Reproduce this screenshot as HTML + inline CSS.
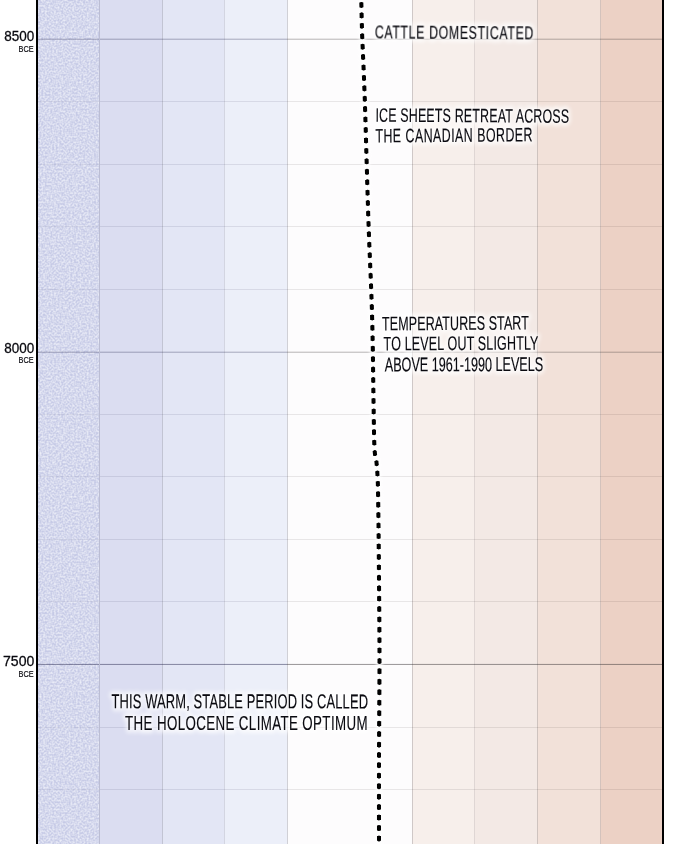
<!DOCTYPE html>
<html><head><meta charset="utf-8"><style>
html,body{margin:0;padding:0;background:#fff;width:700px;height:844px;overflow:hidden}
svg{display:block}
text{font-family:"Liberation Sans",sans-serif;fill:#0a0a10}
.lbl{font-size:15.5px;stroke:#0a0a10;stroke-width:.3px}
.bce{font-size:9.9px;stroke:#0a0a10;stroke-width:.2px}
.ann{font-size:18.6px;stroke:#0a0a10;stroke-width:.15px;vector-effect:non-scaling-stroke}
.halo text{fill:#fff;stroke:#fff;stroke-width:5px;stroke-linejoin:round;vector-effect:non-scaling-stroke}
</style></head><body>
<svg width="700" height="844" viewBox="0 0 700 844">
<defs>
<filter id="noise" x="38" y="0" width="61" height="844" filterUnits="userSpaceOnUse"><feTurbulence type="fractalNoise" baseFrequency="0.55" numOctaves="1" seed="5"/><feColorMatrix type="matrix" values="0 0 0 0 0.84  0 0 0 0 0.855  0 0 0 0 0.94  2.0 0 0 0 -0.6"/><feGaussianBlur stdDeviation="0.45"/></filter>
<filter id="blur2" x="-50%" y="-5%" width="200%" height="110%"><feGaussianBlur stdDeviation="1.5"/></filter>
<filter id="blur" x="-10%" y="-50%" width="120%" height="200%"><feGaussianBlur stdDeviation="2"/></filter>
</defs>
<g><rect x="37" y="0" width="62.5" height="844" fill="#c6cae6"/><rect x="99.5" y="0" width="63.0" height="844" fill="#dbddf1"/><rect x="162.5" y="0" width="62.0" height="844" fill="#e3e6f5"/><rect x="224.5" y="0" width="63.0" height="844" fill="#eceff9"/><rect x="287.5" y="0" width="125.0" height="844" fill="#fdfcfd"/><rect x="412.5" y="0" width="62.0" height="844" fill="#f7efeb"/><rect x="474.5" y="0" width="63.0" height="844" fill="#f3e9e5"/><rect x="537.5" y="0" width="63.0" height="844" fill="#f2e1d9"/><rect x="600.5" y="0" width="61.5" height="844" fill="#ecd1c5"/></g>
<rect x="38" y="0" width="61" height="844" filter="url(#noise)"/>
<g fill="none"><line x1="99.5" y1="0" x2="99.5" y2="844" stroke="rgba(30,30,70,.18)"/><line x1="162.5" y1="0" x2="162.5" y2="844" stroke="rgba(30,30,60,.19)"/><line x1="224.5" y1="0" x2="224.5" y2="844" stroke="rgba(30,30,60,.13)"/><line x1="287.5" y1="0" x2="287.5" y2="844" stroke="rgba(30,30,50,.19)"/><line x1="412.5" y1="0" x2="412.5" y2="844" stroke="rgba(50,35,35,.22)"/><line x1="474.5" y1="0" x2="474.5" y2="844" stroke="rgba(50,35,35,.12)"/><line x1="537.5" y1="0" x2="537.5" y2="844" stroke="rgba(50,35,35,.2)"/><line x1="600.5" y1="0" x2="600.5" y2="844" stroke="rgba(50,35,35,.16)"/></g>
<g fill="none"><line x1="38" y1="39.5" x2="99" y2="39.5" stroke="rgba(30,30,70,0.24)"/><line x1="100" y1="39.5" x2="287" y2="39.5" stroke="rgba(30,30,70,0.24)"/><line x1="287" y1="39.5" x2="662" y2="39.5" stroke="rgba(45,40,42,0.24)"/><line x1="38" y1="38.5" x2="99" y2="38.5" stroke="rgba(30,30,70,0.1)"/><line x1="100" y1="38.5" x2="287" y2="38.5" stroke="rgba(30,30,70,0.1)"/><line x1="287" y1="38.5" x2="662" y2="38.5" stroke="rgba(45,40,42,0.1)"/><line x1="38" y1="101.5" x2="99" y2="101.5" stroke="rgba(30,30,70,0.06)"/><line x1="100" y1="101.5" x2="287" y2="101.5" stroke="rgba(30,30,70,0.1)"/><line x1="287" y1="101.5" x2="662" y2="101.5" stroke="rgba(45,40,42,0.1)"/><line x1="38" y1="164.5" x2="99" y2="164.5" stroke="rgba(30,30,70,0.06)"/><line x1="100" y1="164.5" x2="287" y2="164.5" stroke="rgba(30,30,70,0.1)"/><line x1="287" y1="164.5" x2="662" y2="164.5" stroke="rgba(45,40,42,0.1)"/><line x1="38" y1="226.5" x2="99" y2="226.5" stroke="rgba(30,30,70,0.06)"/><line x1="100" y1="226.5" x2="287" y2="226.5" stroke="rgba(30,30,70,0.1)"/><line x1="287" y1="226.5" x2="662" y2="226.5" stroke="rgba(45,40,42,0.1)"/><line x1="38" y1="289.5" x2="99" y2="289.5" stroke="rgba(30,30,70,0.06)"/><line x1="100" y1="289.5" x2="287" y2="289.5" stroke="rgba(30,30,70,0.1)"/><line x1="287" y1="289.5" x2="662" y2="289.5" stroke="rgba(45,40,42,0.1)"/><line x1="38" y1="352.5" x2="99" y2="352.5" stroke="rgba(30,30,70,0.24)"/><line x1="100" y1="352.5" x2="287" y2="352.5" stroke="rgba(30,30,70,0.24)"/><line x1="287" y1="352.5" x2="662" y2="352.5" stroke="rgba(45,40,42,0.24)"/><line x1="38" y1="351.5" x2="99" y2="351.5" stroke="rgba(30,30,70,0.1)"/><line x1="100" y1="351.5" x2="287" y2="351.5" stroke="rgba(30,30,70,0.1)"/><line x1="287" y1="351.5" x2="662" y2="351.5" stroke="rgba(45,40,42,0.1)"/><line x1="38" y1="414.5" x2="99" y2="414.5" stroke="rgba(30,30,70,0.06)"/><line x1="100" y1="414.5" x2="287" y2="414.5" stroke="rgba(30,30,70,0.1)"/><line x1="287" y1="414.5" x2="662" y2="414.5" stroke="rgba(45,40,42,0.1)"/><line x1="38" y1="476.5" x2="99" y2="476.5" stroke="rgba(30,30,70,0.06)"/><line x1="100" y1="476.5" x2="287" y2="476.5" stroke="rgba(30,30,70,0.1)"/><line x1="287" y1="476.5" x2="662" y2="476.5" stroke="rgba(45,40,42,0.1)"/><line x1="38" y1="539.5" x2="99" y2="539.5" stroke="rgba(30,30,70,0.06)"/><line x1="100" y1="539.5" x2="287" y2="539.5" stroke="rgba(30,30,70,0.1)"/><line x1="287" y1="539.5" x2="662" y2="539.5" stroke="rgba(45,40,42,0.1)"/><line x1="38" y1="601.5" x2="99" y2="601.5" stroke="rgba(30,30,70,0.06)"/><line x1="100" y1="601.5" x2="287" y2="601.5" stroke="rgba(30,30,70,0.1)"/><line x1="287" y1="601.5" x2="662" y2="601.5" stroke="rgba(45,40,42,0.1)"/><line x1="38" y1="664.5" x2="99" y2="664.5" stroke="rgba(30,30,70,0.45)"/><line x1="100" y1="664.5" x2="287" y2="664.5" stroke="rgba(30,30,70,0.45)"/><line x1="287" y1="664.5" x2="662" y2="664.5" stroke="rgba(45,40,42,0.45)"/><line x1="38" y1="663.5" x2="99" y2="663.5" stroke="rgba(30,30,70,0.04)"/><line x1="100" y1="663.5" x2="287" y2="663.5" stroke="rgba(30,30,70,0.04)"/><line x1="287" y1="663.5" x2="662" y2="663.5" stroke="rgba(45,40,42,0.04)"/><line x1="38" y1="727.5" x2="99" y2="727.5" stroke="rgba(30,30,70,0.06)"/><line x1="100" y1="727.5" x2="287" y2="727.5" stroke="rgba(30,30,70,0.1)"/><line x1="287" y1="727.5" x2="662" y2="727.5" stroke="rgba(45,40,42,0.1)"/><line x1="38" y1="789.5" x2="99" y2="789.5" stroke="rgba(30,30,70,0.06)"/><line x1="100" y1="789.5" x2="287" y2="789.5" stroke="rgba(30,30,70,0.1)"/><line x1="287" y1="789.5" x2="662" y2="789.5" stroke="rgba(45,40,42,0.1)"/></g>
<rect x="36" y="0" width="2" height="844" fill="#000"/>
<rect x="662" y="0" width="2" height="844" fill="#000"/>
<path d="M361.3,-2 C361.32,-0.83 361.25,-1.33 361.4,5 C361.55,11.33 361.63,20.17 362.2,36 C362.77,51.83 363.77,69.33 364.8,100 C365.83,130.67 367.17,183.33 368.4,220 C369.63,256.67 371.23,283.33 372.2,320 C373.17,356.67 373.52,416.67 374.2,440 C374.88,463.33 375.67,451.67 376.3,460 C376.93,468.33 377.55,470.00 378.0,490 C378.45,510.00 378.75,551.67 379.0,580 C379.25,608.33 379.50,630.00 379.5,660 C379.50,690.00 379.08,728.33 379.0,760 C378.92,791.67 379.00,835.00 379.0,850" fill="none" stroke="#fff" stroke-width="7" stroke-linecap="round" stroke-dasharray="4.8 5.62" stroke-dashoffset="-4.75" filter="url(#blur2)" opacity=".8"/><path d="M361.3,-2 C361.32,-0.83 361.25,-1.33 361.4,5 C361.55,11.33 361.63,20.17 362.2,36 C362.77,51.83 363.77,69.33 364.8,100 C365.83,130.67 367.17,183.33 368.4,220 C369.63,256.67 371.23,283.33 372.2,320 C373.17,356.67 373.52,416.67 374.2,440 C374.88,463.33 375.67,451.67 376.3,460 C376.93,468.33 377.55,470.00 378.0,490 C378.45,510.00 378.75,551.67 379.0,580 C379.25,608.33 379.50,630.00 379.5,660 C379.50,690.00 379.08,728.33 379.0,760 C378.92,791.67 379.00,835.00 379.0,850" fill="none" stroke="#000" stroke-width="4" stroke-linecap="butt" stroke-dasharray="4.8 5.62" stroke-dashoffset="-4.75"/><path d="M361.3,-2 C361.32,-0.83 361.25,-1.33 361.4,5 C361.55,11.33 361.63,20.17 362.2,36 C362.77,51.83 363.77,69.33 364.8,100 C365.83,130.67 367.17,183.33 368.4,220 C369.63,256.67 371.23,283.33 372.2,320 C373.17,356.67 373.52,416.67 374.2,440 C374.88,463.33 375.67,451.67 376.3,460 C376.93,468.33 377.55,470.00 378.0,490 C378.45,510.00 378.75,551.67 379.0,580 C379.25,608.33 379.50,630.00 379.5,660 C379.50,690.00 379.08,728.33 379.0,760 C378.92,791.67 379.00,835.00 379.0,850" fill="none" stroke="#000" stroke-width="3" stroke-linecap="round" stroke-dasharray="3.0 7.42" stroke-dashoffset="-5.65"/>
<g class="lbl">
<text x="4.3" y="41.4" textLength="30" lengthAdjust="spacingAndGlyphs">8500</text>
<text x="4.3" y="352.5" textLength="30" lengthAdjust="spacingAndGlyphs">8000</text>
<text x="3.0" y="666.2" textLength="31.3" lengthAdjust="spacingAndGlyphs">7500</text>
</g>
<g class="bce">
<text x="18.6" y="51.7" textLength="15" lengthAdjust="spacingAndGlyphs">BCE</text>
<text x="18.6" y="363.4" textLength="15" lengthAdjust="spacingAndGlyphs">BCE</text>
<text x="18.6" y="676.5" textLength="15" lengthAdjust="spacingAndGlyphs">BCE</text>
</g>
<g class="ann halo" filter="url(#blur)" opacity=".8"><text transform="translate(374.80,38.40) rotate(0.364) scale(0.64,1)" textLength="247.7" lengthAdjust="spacing" font-size="19.2">CATTLE DOMESTICATED</text><text transform="translate(375.40,121.70) rotate(0.327) scale(0.64,1)" textLength="302.5" lengthAdjust="spacing" font-size="19.4">ICE SHEETS RETREAT ACROSS</text><text transform="translate(375.40,142.50) rotate(-0.440) scale(0.64,1)" textLength="245.5" lengthAdjust="spacing" font-size="19.4">THE CANADIAN BORDER</text><text transform="translate(382.10,330.40) rotate(-0.354) scale(0.64,1)" textLength="229.4" lengthAdjust="spacing" font-size="19.6">TEMPERATURES START</text><text transform="translate(383.60,350.40) rotate(-0.298) scale(0.64,1)" textLength="242.0" lengthAdjust="spacing" font-size="19.6">TO LEVEL OUT SLIGHTLY</text><text transform="translate(384.80,371.40) rotate(-0.146) scale(0.64,1)" textLength="247.5" lengthAdjust="spacing" font-size="19.8">ABOVE 1961-1990 LEVELS</text><text transform="translate(111.50,708.20) rotate(0.045) scale(0.64,1)" textLength="400.8" lengthAdjust="spacing" font-size="20.2">THIS WARM, STABLE PERIOD IS CALLED</text><text transform="translate(125.10,729.50) rotate(0.000) scale(0.64,1)" textLength="378.8" lengthAdjust="spacing" font-size="20.8">THE HOLOCENE CLIMATE OPTIMUM</text></g>
<g class="ann"><text transform="translate(374.80,38.40) rotate(0.364) scale(0.64,1)" textLength="247.7" lengthAdjust="spacing" font-size="19.2">CATTLE DOMESTICATED</text><text transform="translate(375.40,121.70) rotate(0.327) scale(0.64,1)" textLength="302.5" lengthAdjust="spacing" font-size="19.4">ICE SHEETS RETREAT ACROSS</text><text transform="translate(375.40,142.50) rotate(-0.440) scale(0.64,1)" textLength="245.5" lengthAdjust="spacing" font-size="19.4">THE CANADIAN BORDER</text><text transform="translate(382.10,330.40) rotate(-0.354) scale(0.64,1)" textLength="229.4" lengthAdjust="spacing" font-size="19.6">TEMPERATURES START</text><text transform="translate(383.60,350.40) rotate(-0.298) scale(0.64,1)" textLength="242.0" lengthAdjust="spacing" font-size="19.6">TO LEVEL OUT SLIGHTLY</text><text transform="translate(384.80,371.40) rotate(-0.146) scale(0.64,1)" textLength="247.5" lengthAdjust="spacing" font-size="19.8">ABOVE 1961-1990 LEVELS</text><text transform="translate(111.50,708.20) rotate(0.045) scale(0.64,1)" textLength="400.8" lengthAdjust="spacing" font-size="20.2">THIS WARM, STABLE PERIOD IS CALLED</text><text transform="translate(125.10,729.50) rotate(0.000) scale(0.64,1)" textLength="378.8" lengthAdjust="spacing" font-size="20.8">THE HOLOCENE CLIMATE OPTIMUM</text></g>
</svg>
</body></html>
